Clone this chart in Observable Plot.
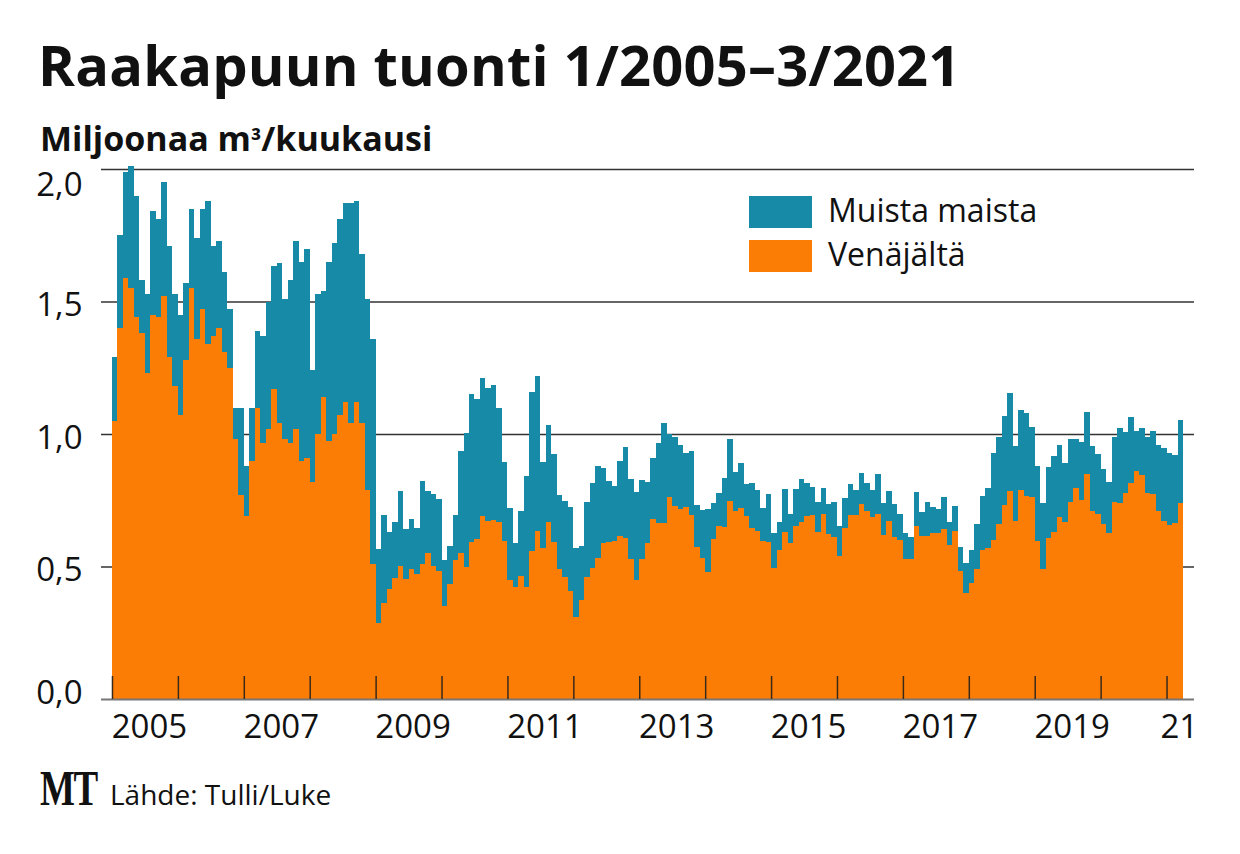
<!DOCTYPE html>
<html><head><meta charset="utf-8">
<script src="https://cdn.jsdelivr.net/npm/d3@7"></script>
<script src="https://cdn.jsdelivr.net/npm/@observablehq/plot@0.6"></script>
<style>
body{margin:0;background:#fff;width:1240px;height:854px;overflow:hidden;position:relative;font-family:"Open Sans",sans-serif;color:#111}
.abs{position:absolute;white-space:nowrap;line-height:1}
#title{left:38px;top:36px;font-weight:700;font-size:56px;letter-spacing:0.2px}
#subtitle{left:40px;top:121px;font-weight:700;font-size:34px}
#subtitle .sup{font-size:0.8em}
.sw{position:absolute;width:63px;height:32px}
.lg{font-size:32px;left:828px}
#logo{left:40px;top:763px;font-family:"Liberation Serif",serif;font-weight:700;font-size:50px;transform:scaleX(0.74);transform-origin:left center;letter-spacing:-2px}
#source{left:110px;top:780px;font-size:28px}
#chart{left:0;top:150px}
</style></head><body>
<div id="title" class="abs">Raakapuun tuonti 1/2005–3/2021</div>
<div id="subtitle" class="abs">Miljoonaa m<span class="sup">³</span>/kuukausi</div>
<div class="sw" style="left:749px;top:196px;background:#168aa6"></div>
<div class="sw" style="left:749px;top:240px;background:#fc7d06"></div>
<div class="abs lg" style="top:194px">Muista maista</div>
<div class="abs lg" style="top:238px">Venäjältä</div>
<div id="chart" class="abs"></div>
<div id="logo" class="abs">MT</div>
<div id="source" class="abs">Lähde: Tulli/Luke</div>
<script>
// Monthly values 1/2005 – 3/2021, million m³
const yhteensa = [
 1.29,1.75,1.99,2.01,1.90,1.58,1.53,1.84,1.81,1.95,1.71,1.53,
 1.45,1.57,1.85,1.74,1.85,1.88,1.71,1.73,1.61,1.47,1.10,1.10,
 0.88,1.10,1.39,1.37,1.50,1.635,1.645,1.51,1.58,1.73,1.65,1.70,
 1.24,1.53,1.54,1.65,1.72,1.81,1.87,1.87,1.88,1.68,1.51,1.36,
 0.566,0.693,0.629,0.667,0.786,0.642,0.678,0.647,0.823,0.785,0.772,0.753,
 0.525,0.579,0.694,0.937,1.005,1.151,1.131,1.21,1.175,1.184,1.10,0.896,
 0.72,0.59,0.709,0.843,1.157,1.219,0.896,1.033,0.925,0.77,0.748,0.726,
 0.569,0.577,0.745,0.814,0.879,0.87,0.824,0.804,0.898,0.95,0.829,0.78,
 0.826,0.82,0.91,0.965,1.04,1.0,0.99,0.958,0.93,0.937,0.732,0.713,
 0.717,0.738,0.776,0.835,0.98,0.855,0.892,0.81,0.816,0.789,0.72,0.772,
 0.625,0.667,0.792,0.698,0.791,0.829,0.816,0.80,0.742,0.797,0.736,0.745,
 0.653,0.757,0.811,0.789,0.854,0.814,0.789,0.848,0.738,0.786,0.736,0.70,
 0.628,0.613,0.782,0.707,0.745,0.726,0.717,0.764,0.669,0.73,0.575,0.512,
 0.562,0.659,0.767,0.795,0.927,0.99,1.068,1.156,0.955,1.09,1.078,1.028,
 0.879,0.741,0.874,0.918,0.958,0.889,0.98,0.98,0.971,1.084,0.955,0.923,
 0.867,0.82,0.99,1.024,1.006,1.065,1.013,1.021,0.99,1.013,0.958,0.946,
 0.93,0.921,1.053];
const venajalta = [
 1.05,1.40,1.59,1.55,1.44,1.38,1.23,1.45,1.44,1.52,1.29,1.18,
 1.07,1.28,1.55,1.36,1.47,1.34,1.37,1.40,1.31,1.25,0.98,0.77,
 0.69,0.90,1.10,0.965,1.02,1.17,1.04,0.98,0.966,1.02,0.90,0.91,
 0.82,1.00,1.14,0.975,1.00,1.07,1.12,1.04,1.12,1.04,0.79,0.51,
 0.286,0.361,0.414,0.455,0.502,0.453,0.49,0.47,0.51,0.552,0.502,0.484,
 0.352,0.434,0.525,0.552,0.50,0.594,0.603,0.69,0.672,0.674,0.668,0.596,
 0.449,0.424,0.464,0.421,0.56,0.635,0.569,0.667,0.594,0.491,0.462,0.409,
 0.311,0.374,0.462,0.493,0.531,0.59,0.594,0.597,0.615,0.606,0.527,0.449,
 0.528,0.59,0.678,0.665,0.663,0.761,0.73,0.717,0.726,0.694,0.572,0.531,
 0.48,0.603,0.653,0.648,0.748,0.709,0.72,0.69,0.644,0.635,0.597,0.594,
 0.493,0.562,0.629,0.59,0.654,0.669,0.69,0.694,0.631,0.70,0.623,0.613,
 0.541,0.644,0.694,0.694,0.736,0.711,0.688,0.70,0.619,0.673,0.613,0.60,
 0.528,0.527,0.653,0.616,0.616,0.625,0.625,0.64,0.581,0.635,0.484,0.401,
 0.436,0.491,0.562,0.569,0.60,0.66,0.732,0.785,0.672,0.789,0.766,0.764,
 0.597,0.491,0.606,0.631,0.686,0.667,0.745,0.795,0.751,0.849,0.711,0.70,
 0.659,0.628,0.742,0.738,0.779,0.814,0.86,0.845,0.779,0.774,0.709,0.673,
 0.657,0.663,0.738];
const yearStarts = [0,12,24,36,48,60,72,84,96,108,120,132,144,156,168,180,192];
const xLabels = ["2005","2007","2009","2011","2013","2015","2017","2019","21"];
const xLabelMonths = [6,30,54,78,102,126,150,174,193.5];
const yTicks = [0,0.5,1.0,1.5,2.0];
const yLabels = ["0,0","0,5","1,0","1,5","2,0"];

const orange = "#fc7d06", teal = "#168aa6";
const rows = venajalta.map((v, i) => ({i, ven: v, tot: yhteensa[i]}));
const xl = xLabels.map((t, k) => ({t, m: xLabelMonths[k]}));
const yl = yTicks.map((v, k) => ({v, t: yLabels[k]}));
const font = {fontFamily: "Open Sans", fontSize: 33, fill: "#111"};

const chart = Plot.plot({
  width: 1240, height: 620,
  marginTop: 19, marginBottom: 71, marginLeft: 101, marginRight: 46,
  x: {type: "linear", domain: [-2, 197], axis: null},
  y: {domain: [0, 2], axis: null},
  style: {background: "transparent", overflow: "visible"},
  marks: [
    Plot.ruleY(yTicks.filter(v => v > 0), {stroke: "#333", strokeWidth: 1.3}),
    Plot.rectY(rows, {x1: d => d.i, x2: d => d.i + 1, y1: 0, y2: "ven", fill: orange, shapeRendering: "crispEdges"}),
    Plot.rectY(rows, {x1: d => d.i, x2: d => d.i + 1, y1: "ven", y2: "tot", fill: teal, shapeRendering: "crispEdges"}),
    Plot.ruleY([0], {stroke: "#777", strokeWidth: 2}),
    Plot.axisX(yearStarts, {anchor: "bottom", tickSize: -23, stroke: "#3a2a1a", strokeWidth: 1.5, tickFormat: () => "", label: null}),
    Plot.text(xl, {x: "m", y: 0, text: "t", lineAnchor: "bottom", dy: 38, dx: 4, ...font}),
    Plot.text(yl, {filter: d => d.v > 0 && d.v < 2, y: "v", text: "t", frameAnchor: "left", textAnchor: "end", dx: -19, lineAnchor: "bottom", dy: 14, ...font}),
    Plot.text(yl, {filter: d => d.v === 2, y: "v", text: "t", frameAnchor: "left", textAnchor: "end", dx: -19, lineAnchor: "bottom", dy: 26, ...font}),
    Plot.text(yl, {filter: d => d.v === 0, y: "v", text: "t", frameAnchor: "left", textAnchor: "end", dx: -19, lineAnchor: "bottom", dy: 4, ...font})
  ]
});
document.getElementById("chart").appendChild(chart);
</script>
</body></html>
